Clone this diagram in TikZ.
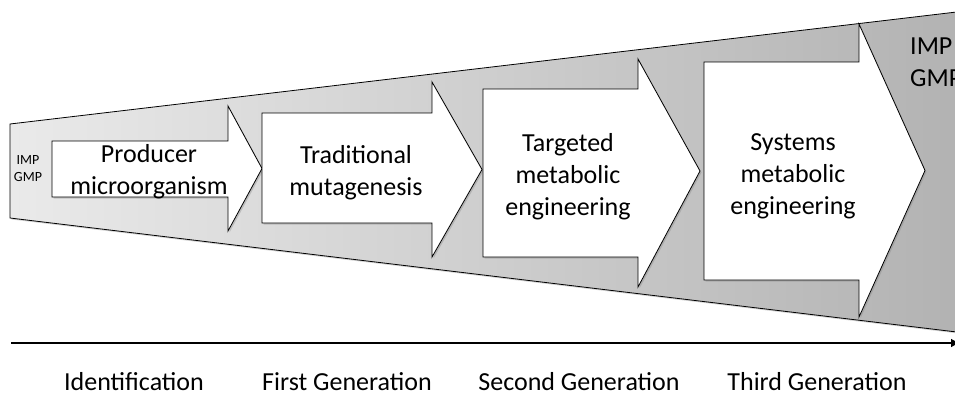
\documentclass[tikz,border=0pt]{standalone}
\usepackage{fontspec}
\setmainfont{Carlito}
\usetikzlibrary{shadows,arrows.meta}
\definecolor{shadeL}{HTML}{EAEAEA}
\definecolor{shadeR}{HTML}{B2B2B2}
\begin{document}
\begin{tikzpicture}[x=1pt,y=-1pt,
  bigtext/.style={inner sep=0pt, align=center, font=\fontsize{26}{32}\selectfont},
  genlabel/.style={inner sep=0pt, anchor=base, font=\fontsize{26}{32}\selectfont},
  smalltext/.style={inner sep=0pt, align=center, font=\fontsize{14}{17}\selectfont},
  shapeline/.style={draw=black, line width=0.8pt},
  arrowbox/.style={shapeline, fill=white, drop shadow={shadow xshift=1.5pt, shadow yshift=-1.5pt, opacity=0.35}},
  axisline/.style={line width=2.6pt, -{Latex[length=9pt,width=9pt]}},
 ]
\useasboundingbox (0,0) rectangle (955,397);
\clip (0,0) rectangle (955,397);
% funnel
\path[shapeline, left color=shadeL, right color=shadeR,
      drop shadow={shadow xshift=1.5pt, shadow yshift=-1.5pt, opacity=0.35}]
  (10,124) -- (965,11) -- (965,333) -- (10,218) -- cycle;
% block arrows
\path[arrowbox] (52,141) -- (228,141) -- (228,106) -- (262,168.5) -- (228,231) -- (228,197) -- (52,197) -- cycle;
\path[arrowbox] (262,113) -- (432,113) -- (432,82) -- (482,169.5) -- (432,257) -- (432,223) -- (262,223) -- cycle;
\path[arrowbox] (483,89) -- (638,89) -- (638,59) -- (700,171) -- (638,287) -- (638,257) -- (483,257) -- cycle;
\path[arrowbox] (704,62) -- (859,62) -- (859,24) -- (925,170.5) -- (859,317) -- (859,280) -- (704,280) -- cycle;
% texts
\node[smalltext] (impL) at (28,169) {IMP\\GMP};
\node[bigtext] (t1) at (149,172) {Producer\\microorganism};
\node[bigtext] (t2) at (356,173) {Traditional\\mutagenesis};
\node[bigtext] (t3) at (568,177) {Targeted\\metabolic\\engineering};
\node[bigtext] (t4) at (793,176) {Systems\\metabolic\\engineering};
\node[bigtext, align=left, anchor=west] (impR) at (910,62) {IMP\\GMP};
% axis
\coordinate (axs) at (11,343);
\coordinate (axe) at (960,343);
\draw[axisline] (axs) -- (axe);
% generation labels
\node[genlabel] (g0) at (134,390) {Identification};
\node[genlabel] (g1) at (347,390) {First Generation};
\node[genlabel] (g2) at (579,390) {Second Generation};
\node[genlabel] (g3) at (817,390) {Third Generation};
\end{tikzpicture}
\end{document}
